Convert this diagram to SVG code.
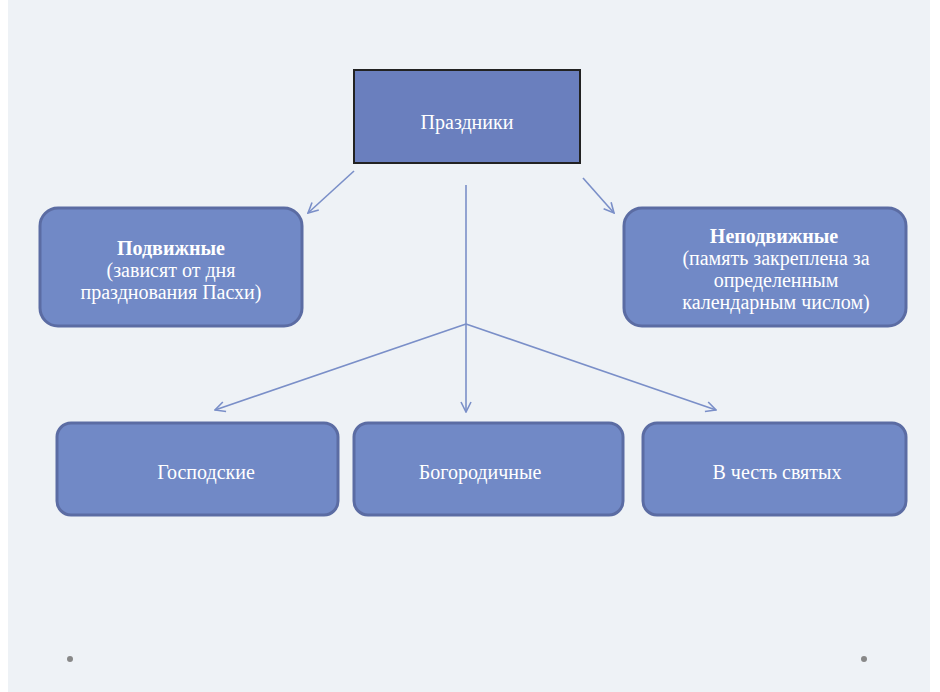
<svg xmlns="http://www.w3.org/2000/svg" width="940" height="692" viewBox="0 0 940 692">
<defs>
<style>
.box{fill:#7189c6;stroke:#5b6ca3;stroke-width:3}
.t{font-family:"Liberation Serif",serif;font-size:20px;fill:#fff;text-anchor:middle}
.b{font-weight:bold}
.c{stroke:#7a8fc8;stroke-width:1.6;fill:none}
</style>
<marker id="a" viewBox="0 0 12 12" refX="11" refY="6" markerWidth="12" markerHeight="12" markerUnits="userSpaceOnUse" orient="auto">
<path d="M1,1 L11,6 L1,11" fill="none" stroke="#7a8fc8" stroke-width="1.6"/>
</marker>
</defs>
<rect width="940" height="692" fill="#fff"/>
<rect x="8" y="0" width="922" height="692" fill="#eef2f6"/>
<circle cx="70" cy="659" r="3" fill="#888"/>
<circle cx="864" cy="659" r="3" fill="#888"/>
<g id="connectors" class="c">
<line x1="354" y1="171" x2="308" y2="213" marker-end="url(#a)"/>
<line x1="583" y1="178" x2="614" y2="213" marker-end="url(#a)"/>
<line x1="466" y1="185" x2="466" y2="412" marker-end="url(#a)"/>
<line x1="466" y1="324" x2="215" y2="410" marker-end="url(#a)"/>
<line x1="466" y1="324" x2="716" y2="410" marker-end="url(#a)"/>
</g>
<g id="n-root"><rect x="354" y="70" width="226" height="93" fill="#6a7fbe" stroke="#222" stroke-width="2"/><text class="t" x="467" y="129">Праздники</text></g>
<g id="n-mov"><rect class="box" x="40" y="208" width="262" height="118" rx="18"/><text class="t" x="171" y="255"><tspan class="b">Подвижные</tspan><tspan x="171" dy="22">(зависят от дня</tspan><tspan x="171" dy="22">празднования Пасхи)</tspan></text></g>
<g id="n-fix"><rect class="box" x="624" y="208" width="282" height="118" rx="18"/><text class="t" x="774" y="243"><tspan class="b">Неподвижные</tspan><tspan x="776" dy="22">(память закреплена за</tspan><tspan x="776" dy="22">определенным</tspan><tspan x="776" dy="22">календарным числом)</tspan></text></g>
<g id="n-g"><rect class="box" x="57" y="423" width="281" height="92" rx="14"/><text class="t" x="206" y="479">Господские</text></g>
<g id="n-b"><rect class="box" x="354" y="423" width="269" height="92" rx="14"/><text class="t" x="480" y="479">Богородичные</text></g>
<g id="n-s"><rect class="box" x="643" y="423" width="263" height="92" rx="14"/><text class="t" x="777" y="479">В честь святых</text></g>
</svg>
